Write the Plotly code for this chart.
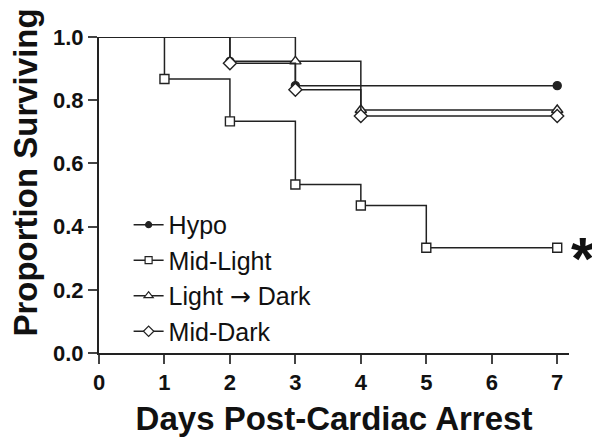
import plotly.graph_objects as go

# Kaplan-Meier style step data (days, proportion surviving)
hypo_days = [0, 2, 3, 7]
hypo_surv = [1.0, 0.923, 0.846, 0.846]

midlight_days = [0, 1, 2, 3, 4, 5, 7]
midlight_surv = [1.0, 0.867, 0.733, 0.533, 0.467, 0.333, 0.333]

lightdark_days = [0, 3, 4, 7]
lightdark_surv = [1.0, 0.923, 0.769, 0.769]

middark_days = [0, 2, 3, 4, 7]
middark_surv = [1.0, 0.917, 0.833, 0.75, 0.75]

series_names = ["Hypo", "Mid-Light",
                "Light <span style='font-family:DejaVu Sans'>\u2192</span> Dark", "Mid-Dark"]
x_ticks = [0, 1, 2, 3, 4, 5, 6, 7]
y_ticks = [0.0, 0.2, 0.4, 0.6, 0.8, 1.0]

LINE = "#222222"
FONT = "Liberation Sans, Arial, sans-serif"

# (days, values, symbol, fill, size)
series = [
    (hypo_days, hypo_surv, "circle", LINE, 8),
    (midlight_days, midlight_surv, "square", "white", 9),
    (lightdark_days, lightdark_surv, "triangle-up", "white", 10),
    (middark_days, middark_surv, "diamond", "white", 10),
]

fig = go.Figure()
for name, (xs, ys, sym, fill, sz) in zip(series_names, series):
    fig.add_trace(go.Scatter(x=xs, y=ys, mode="lines", line=dict(color=LINE, width=1.5, shape="hv"),
                             showlegend=False, cliponaxis=False, hoverinfo="skip"))
    fig.add_trace(go.Scatter(x=xs[1:], y=ys[1:], mode="markers",
                             marker=dict(symbol=sym, size=sz, color=fill,
                                         line=dict(color=LINE, width=1.4)),
                             showlegend=False, cliponaxis=False))
    fig.add_trace(go.Scatter(x=[None], y=[None], mode="lines+markers", name=name,
                             line=dict(color=LINE, width=1.5),
                             marker=dict(symbol=sym, size=sz - 2, color=fill,
                                         line=dict(color=LINE, width=1.2))))

fig.add_annotation(x=7.0, y=midlight_surv[-1], xref="x", yref="y", text="<b>*</b>",
                   showarrow=False, xanchor="center", xshift=26, yshift=-11,
                   font=dict(size=60, color="#111111", family=FONT))

# y-axis title (placed as rotated text so it can sit slightly above the plot centre)
fig.add_annotation(x=-0.156, y=0.57, xref="paper", yref="paper", text="<b>Proportion Surviving</b>",
                   textangle=-90, showarrow=False, xanchor="center", yanchor="middle",
                   font=dict(size=33, color="#111111", family=FONT))

# the page body adds an 8px offset, so margins are shifted up/left by 8px
fig.update_layout(
    width=600, height=439,
    margin=dict(l=91, r=39, t=29, b=94),
    paper_bgcolor="white", plot_bgcolor="white",
    font=dict(family=FONT, color="#111111"),
    legend=dict(x=0.063, y=0.478, xanchor="left", yanchor="top",
                font=dict(size=25, family=FONT, color="#111111"),
                bgcolor="rgba(0,0,0,0)", tracegroupgap=0),
    showlegend=True,
)
fig.update_xaxes(range=[0, 7.18], tickvals=x_ticks, ticks="outside", ticklen=9, tickwidth=1.5,
                 showline=True, linecolor="#222222", linewidth=2, showgrid=False, zeroline=False,
                 automargin=False,
                 tickfont=dict(size=22, family=FONT, weight="bold", color="#111111"),
                 title=dict(text="<b>Days Post-Cardiac Arrest</b>", font=dict(size=33, family=FONT),
                            standoff=12))
fig.update_yaxes(range=[0, 1.0], tickvals=y_ticks, tickformat=".1f", ticks="outside", ticklen=9,
                 tickwidth=1.5, showline=True, linecolor="#222222", linewidth=2, showgrid=False,
                 zeroline=False, automargin=False,
                 tickfont=dict(size=22, family=FONT, weight="bold", color="#111111"))

fig.write_html("out.html")
